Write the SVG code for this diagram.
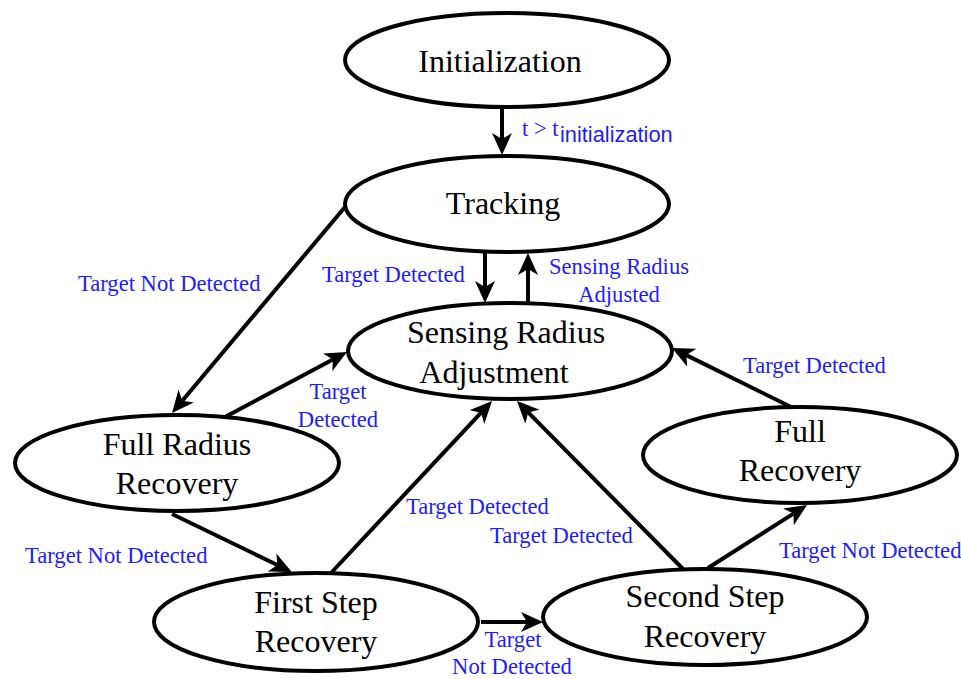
<svg xmlns="http://www.w3.org/2000/svg" width="961" height="679" viewBox="0 0 961 679">
<style>
.node ellipse{fill:#fff;stroke:#000;stroke-width:4}
.nt{font-family:"Liberation Serif","Times New Roman",serif;font-size:32px;fill:#000;text-anchor:middle}
.lb{font-family:"Liberation Serif","Times New Roman",serif;font-size:22.6px;fill:#1c1cff}
.c{text-anchor:middle}
.edge{stroke:#000;stroke-width:4;fill:none;marker-end:url(#ah)}
</style>
<defs>
<marker id="ah" markerUnits="userSpaceOnUse" viewBox="0 0 22 20" markerWidth="22" markerHeight="20" refX="6" refY="10" orient="auto">
<path d="M0,0 L22,10 L0,20 L6,10 z" fill="#000"/>
</marker>
</defs>
<rect width="961" height="679" fill="#fff"/>
<g id="connectors">
<line class="edge" x1="502" y1="108" x2="502" y2="139"/>
<line class="edge" x1="485" y1="253" x2="485" y2="287"/>
<line class="edge" x1="528" y1="303" x2="528" y2="269"/>
<line class="edge" x1="345" y1="207" x2="182.3" y2="400.7"/>
<line class="edge" x1="225" y1="417" x2="332.9" y2="359.5"/>
<line class="edge" x1="172" y1="514" x2="277.4" y2="565"/>
<line class="edge" x1="331" y1="573" x2="481.1" y2="412.7"/>
<line class="edge" x1="683" y1="569" x2="528.2" y2="412.4"/>
<line class="edge" x1="708" y1="568" x2="793.5" y2="513.6"/>
<line class="edge" x1="793" y1="408" x2="686.3" y2="355.1"/>
<line class="edge" x1="481" y1="622" x2="527" y2="622"/>
</g>
<g id="labels">
<text class="lb" x="522" y="136">t &gt; t</text>
<text x="560" y="142" style="font-family:'Liberation Sans',Arial,sans-serif;font-size:21.8px;fill:#1c1cff">initialization</text>
<text class="lb" x="322" y="282">Target Detected</text>
<text class="lb c" x="619" y="274">Sensing Radius</text>
<text class="lb c" x="619" y="302">Adjusted</text>
<text class="lb" x="78" y="291">Target Not Detected</text>
<text class="lb c" x="338" y="399">Target</text>
<text class="lb c" x="338" y="427">Detected</text>
<text class="lb" x="25" y="563">Target Not Detected</text>
<text class="lb" x="406" y="514">Target Detected</text>
<text class="lb" x="490" y="543">Target Detected</text>
<text class="lb" x="779" y="558">Target Not Detected</text>
<text class="lb" x="743" y="373">Target Detected</text>
<text class="lb c" x="513" y="647">Target</text>
<text class="lb c" x="512" y="674">Not Detected</text>
</g>
<g id="initialization" class="node">
<ellipse cx="507" cy="60" rx="162" ry="47"/>
<text class="nt" x="500" y="72">Initialization</text>
</g>
<g id="tracking" class="node">
<ellipse cx="507" cy="204" rx="162" ry="48"/>
<text class="nt" x="503" y="214">Tracking</text>
</g>
<g id="sensing-radius-adjustment" class="node">
<ellipse cx="510" cy="351" rx="162" ry="48"/>
<text class="nt" x="506" y="343">Sensing Radius</text>
<text class="nt" x="494" y="383">Adjustment</text>
</g>
<g id="full-radius-recovery" class="node">
<ellipse cx="177" cy="463" rx="162" ry="48"/>
<text class="nt" x="177" y="455">Full Radius</text>
<text class="nt" x="177" y="494">Recovery</text>
</g>
<g id="full-recovery" class="node">
<ellipse cx="800" cy="455" rx="157" ry="48"/>
<text class="nt" x="800" y="442">Full</text>
<text class="nt" x="800" y="481">Recovery</text>
</g>
<g id="first-step-recovery" class="node">
<ellipse cx="316" cy="622" rx="162" ry="49"/>
<text class="nt" x="316" y="613">First Step</text>
<text class="nt" x="316" y="652">Recovery</text>
</g>
<g id="second-step-recovery" class="node">
<ellipse cx="705" cy="617" rx="162" ry="48"/>
<text class="nt" x="705" y="607">Second Step</text>
<text class="nt" x="705" y="647">Recovery</text>
</g>
</svg>
